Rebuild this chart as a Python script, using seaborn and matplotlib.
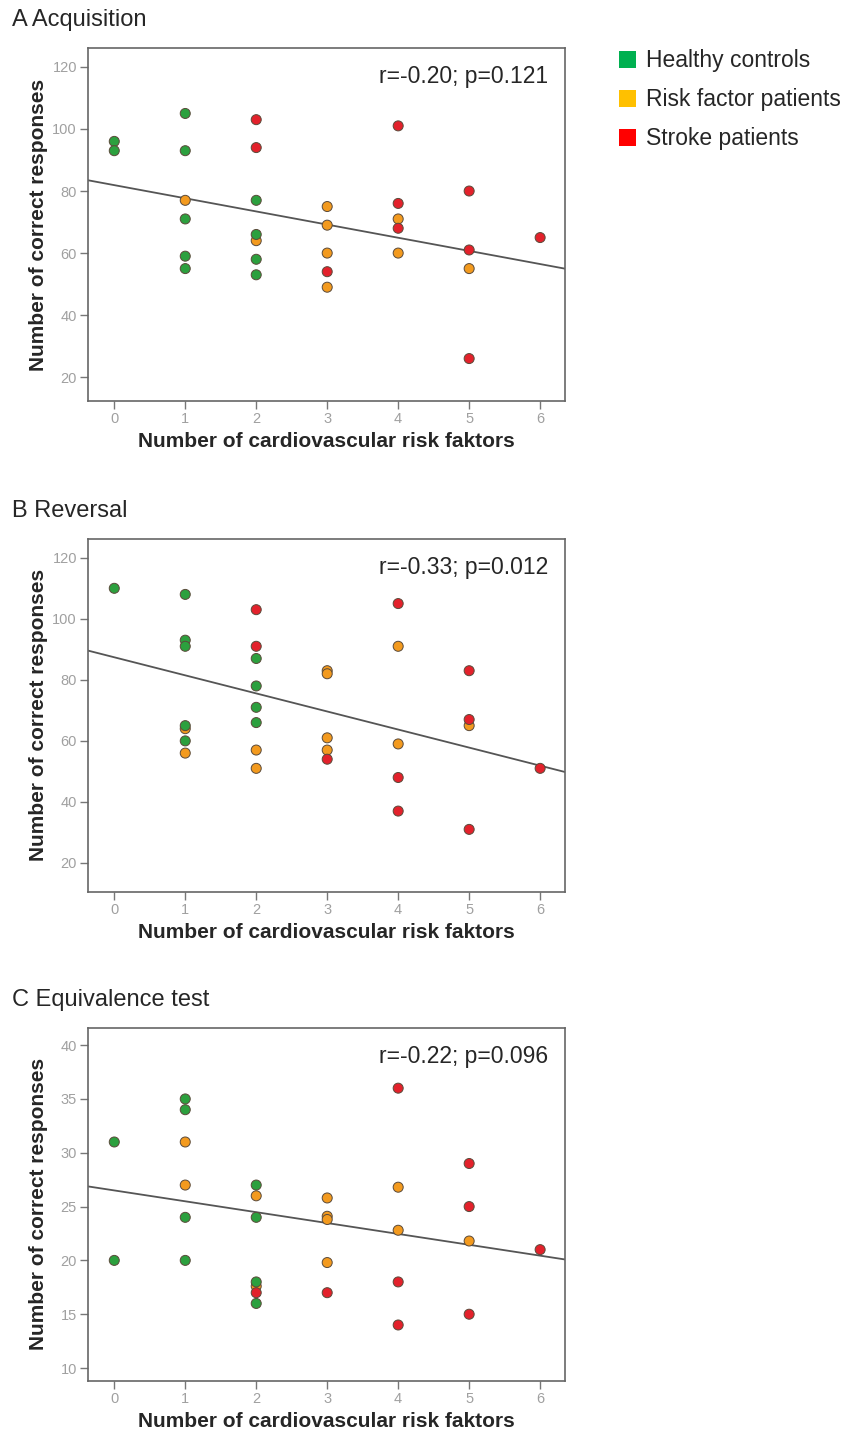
import numpy as np
import pandas as pd
import matplotlib
matplotlib.use('Agg')
import matplotlib.pyplot as plt
from matplotlib.patches import Patch
import seaborn as sns

sns.set_style('white')
plt.rcParams['font.family'] = ['Liberation Sans', 'DejaVu Sans']

# H = healthy controls, R = risk factor patients, S = stroke patients
acq_x = [0, 0, 1, 1, 1, 1, 1, 1, 2, 2, 2, 2, 2, 2, 2, 3, 3, 3, 3, 3, 4, 4, 4, 4, 4, 5, 5, 5, 5, 6]
acq_y = [96, 93, 77, 105, 93, 71, 59, 55, 64, 103, 94, 77, 66, 58, 53, 75, 69, 60, 49, 54, 71, 60, 101, 76, 68, 55, 80, 61, 26, 65]
acq_grp = ['H', 'H', 'R', 'H', 'H', 'H', 'H', 'H', 'R', 'S', 'S', 'H', 'H', 'H', 'H', 'R', 'R', 'R', 'R', 'S',
           'R', 'R', 'S', 'S', 'S', 'R', 'S', 'S', 'S', 'S']

rev_x = [0, 1, 1, 1, 1, 1, 1, 1, 2, 2, 2, 2, 2, 2, 2, 2, 3, 3, 3, 3, 3, 4, 4, 4, 4, 4, 5, 5, 5, 5, 6]
rev_y = [110, 64, 56, 108, 93, 91, 65, 60, 57, 51, 103, 91, 87, 78, 71, 66, 83, 82, 61, 57, 54, 91, 59, 105, 48, 37, 65, 83, 67, 31, 51]
rev_grp = ['H', 'R', 'R', 'H', 'H', 'H', 'H', 'H', 'R', 'R', 'S', 'S', 'H', 'H', 'H', 'H', 'R', 'R', 'R', 'R', 'S',
           'R', 'R', 'S', 'S', 'S', 'R', 'S', 'S', 'S', 'S']

eq_x = [0, 0, 1, 1, 1, 1, 1, 1, 2, 2, 2, 2, 2, 2, 2, 3, 3, 3, 3, 3, 4, 4, 4, 4, 4, 5, 5, 5, 5, 6]
eq_y = [31, 20, 31, 27, 35, 34, 24, 20, 26, 17.6, 17, 27, 24, 18, 16, 25.8, 24.1, 23.8, 19.8, 17, 26.8, 22.8, 36, 18, 14, 21.8, 29, 25, 15, 21]
eq_grp = ['H', 'H', 'R', 'R', 'H', 'H', 'H', 'H', 'R', 'R', 'S', 'H', 'H', 'H', 'H', 'R', 'R', 'R', 'R', 'S',
          'R', 'R', 'S', 'S', 'S', 'R', 'S', 'S', 'S', 'S']

# fitted regression lines as shown in the figure (intercept, slope)
fit_intercept = [81.9, 87.4, 26.5]
fit_slope = [-4.24, -5.92, -1.01]

titles = ['A Acquisition', 'B Reversal', 'C Equivalence test']
stats = ['r=-0.20; p=0.121', 'r=-0.33; p=0.012', 'r=-0.22; p=0.096']
group_names = ['Healthy controls', 'Risk factor patients', 'Stroke patients']

point_colors = {'H': '#2ca03e', 'R': '#f39a1e', 'S': '#e3212b'}
legend_colors = ['#00b050', '#ffc000', '#ff0000']

fig = plt.figure(figsize=(8.43, 14.37), dpi=100)

panels = [
    (acq_x, acq_y, acq_grp, (12.3, 126.1), np.arange(20, 121, 20), 0.7209),
    (rev_x, rev_y, rev_grp, (10.5, 126.2), np.arange(20, 121, 20), 0.3793),
    (eq_x, eq_y, eq_grp, (8.8, 41.6), np.arange(10, 41, 5), 0.0390),
]

for i, (xs, ys, grp, ylim, yticks, bottom) in enumerate(panels):
    ax = fig.add_axes([0.1044, bottom, 0.5658, 0.2457])
    df = pd.DataFrame({'x': xs, 'y': ys, 'g': grp})
    ax.axline((0, fit_intercept[i]), slope=fit_slope[i], color='#555555', lw=1.3, zorder=2)
    sns.scatterplot(data=df, x='x', y='y', hue='g', palette=point_colors, s=52,
                    edgecolor='#5a4a3a', linewidth=0.7, legend=False, zorder=3, ax=ax)
    ax.set_xlim(-0.37, 6.35)
    ax.set_ylim(*ylim)
    ax.set_xticks(range(7))
    ax.set_yticks(yticks)
    ax.tick_params(axis='both', direction='out', length=6, width=1, color='#777777', pad=2,
                   labelcolor='#a0a0a0', labelsize=10.5, bottom=True, left=True)
    for sp in ax.spines.values():
        sp.set_color('#666666')
        sp.set_linewidth(1.2)
    ax.set_xlabel('Number of cardiovascular risk faktors', fontsize=15, fontweight='bold', labelpad=4)
    ax.set_ylabel('Number of correct responses', fontsize=15, fontweight='bold')
    ax.yaxis.set_label_coords(-0.084, 0.5)
    ax.text(0.964, 0.918, stats[i], transform=ax.transAxes, ha='right', va='center', fontsize=16.5)
    fig.text(12 / 843, bottom + 0.2457 + 0.0195, titles[i], fontsize=17, ha='left', va='center')

handles = [Patch(facecolor=c, edgecolor='none') for c in legend_colors]
fig.legend(handles, group_names, loc='upper left', bbox_to_anchor=(0.71, 0.98), frameon=False,
           fontsize=16.5, handlelength=0.75, handleheight=0.75, handletextpad=0.4, labelspacing=0.7)

fig.savefig('out.png', dpi=100)
